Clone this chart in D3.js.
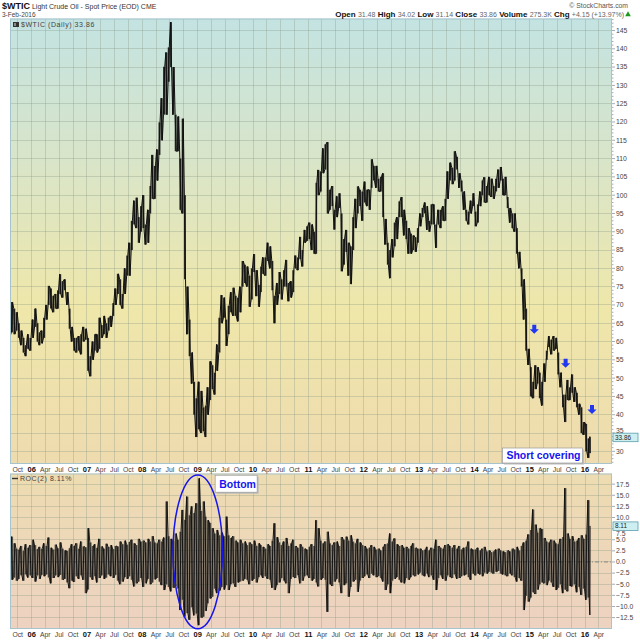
<!DOCTYPE html>
<html>
<head>
<meta charset="utf-8">
<title>$WTIC Light Crude Oil - Spot Price</title>
<script src="https://cdn.jsdelivr.net/npm/d3@7"></script>
<style>
  body { margin: 0; background: #fff; }
  text { font-family: "Liberation Sans", Arial, sans-serif; }
</style>
</head>
<body>
<div id="chart"></div>
<script>
// half-month periods, Aug 2005 (1st half) .. Jan 2016 (2nd half), then Feb 1-3 2016
var priceLo = [
  61.5, 62.5, 62.0, 63.0, 61.0, 59.0, 57.0, 56.0, 58.0, 57.5,
  61, 64, 60, 59, 59.5, 61, 66, 70, 69, 68, 69, 69, 73, 72, 74, 70, 63.5, 60, 57.5, 57, 57.5, 56.5, 60, 60.5,
  52, 50.5, 55, 57.5, 57, 58, 61, 62, 61, 63, 64, 67, 70, 73, 70, 69, 73, 78, 78, 85, 92, 91, 87, 90,
  91, 86.5, 87, 95, 99, 99, 104, 111, 115, 122, 122, 131, 135, 122, 112, 112, 96, 95, 77, 62, 56, 48.5, 40, 33.9,
  36, 35, 35.5, 33.9, 40, 44, 47, 45.5, 52, 57, 65, 66.5, 58.8, 62, 68, 67, 67, 65.5, 68, 75, 76, 75, 69.5, 71.5,
  79, 72.4, 69.5, 73.5, 78.5, 78, 82, 80, 74, 65, 70, 73, 71.5, 75, 75, 71, 72, 73.5, 80, 79.5, 82.5, 80.5, 87, 87.5,
  88, 85, 84, 84, 100, 101, 106, 107, 95, 96, 97, 90.6, 94, 96.5, 79.2, 81, 84.5, 78, 75.7, 85, 91, 95, 97, 93,
  98, 97, 96, 102, 104, 102, 101, 101, 94, 86.5, 81, 77.3, 83, 86, 88, 94, 94, 89, 88, 84, 84, 85, 84.5, 87,
  91.5, 94, 95, 90.5, 90, 92, 92, 85.6, 92, 91, 93, 93, 99, 104, 103, 104, 107, 102, 101, 96, 93, 92, 95, 97,
  91.5, 92.5, 97, 100, 98, 98, 100, 99.5, 99, 101, 102, 104, 100, 100, 96.5, 92.5, 91, 90, 84, 80, 75, 66, 57.5, 53.6,
  45, 44.5, 47, 48.5, 44.5, 42.5, 49, 55, 58.5, 56.5, 57.5, 58, 51, 47.5, 42, 38, 44, 44, 46, 43.5, 42, 40, 35, 34.5,
  30, 28.2, 29.5
];
var priceHi = [
  66.5, 70.8, 69.0, 68.0, 65.0, 63.0, 61.0, 59.0, 62.0, 61.0,
  66, 69, 65, 62.5, 63, 66.5, 70, 75.2, 74.5, 72.5, 73, 74, 78.4, 76.5, 77, 73.5, 69, 64, 61, 61, 61.5, 62, 64, 63.5,
  61, 56, 60, 62, 62, 66.5, 64.5, 67, 65, 66.5, 67, 70.5, 74.5, 78.5, 77, 73, 80, 83.5, 87, 93, 98.5, 99.3, 94, 97,
  100, 92, 96, 102.5, 111, 108, 112.5, 119.9, 126.5, 135.1, 139, 140.4, 147.3, 135, 122, 121.5, 110, 120.9, 100, 75, 66, 57, 49, 44.5,
  49, 46.5, 42, 42.5, 47.5, 54.6, 53.5, 51.5, 59.2, 66.5, 72.7, 72, 66, 69.8, 73.5, 74.7, 72.5, 72, 75, 82, 81, 80.5, 78, 80,
  83.9, 79.5, 75.5, 80.5, 83, 83, 87, 86, 82, 72.5, 76, 79, 77, 79.5, 82.3, 76, 76.5, 79.5, 83.5, 83, 88.6, 85, 90.5, 91.5,
  92.5, 92, 90, 103.4, 106.9, 106.5, 112.8, 113.9, 114.5, 101.5, 102.5, 96, 99.7, 100.5, 95, 88, 90.5, 87, 86, 94, 99, 102.4, 101.5, 101,
  103.7, 101.5, 101.5, 109.8, 108, 108, 104.5, 105, 106, 93.5, 87, 85, 88, 92.5, 94, 98.3, 99.5, 96, 93, 91, 89.5, 89, 88.5, 91,
  95, 96.5, 98, 97, 93, 97.5, 97.5, 92, 96, 96, 97, 99, 106.5, 108.9, 107.5, 112, 110.5, 106, 104, 101, 96, 95.5, 98.5, 100.5,
  95.5, 97.5, 101, 104, 104.9, 102.5, 105, 104.5, 102.5, 104.5, 107, 107.7, 104.5, 105, 99.5, 96.5, 95, 95, 91, 84.5, 80, 77, 69, 58,
  53, 49, 53.5, 53, 51.5, 49, 54, 57.5, 61.5, 60.5, 61.5, 61, 57, 51.5, 45.5, 45.5, 49.5, 47.5, 51, 47.5, 46, 43, 42, 38,
  37.5, 33.5, 34.0
];
var rocHi = [
  3.5, 5.7, 4.2, 3.0, 2.8, 3.6, 2.5, 4.0, 3.2, 3.8,
  5.0, 3.8, 2.9, 3.4, 3.0, 4.2, 3.6, 5.5, 3.2, 2.8, 3.9, 3.1, 4.4, 3.0, 2.6, 2.5, 3.1, 4.0, 3.6, 4.2, 3.0, 4.6, 3.5, 3.3,
  7.6, 4.4, 3.6, 4.0, 3.2, 5.2, 3.5, 3.0, 4.1, 3.4, 3.8, 2.9, 3.6, 3.5, 4.6, 4.0, 4.8, 3.9, 4.5, 5.0, 4.2, 3.8, 5.2, 4.6,
  4.8, 4.4, 5.2, 4.6, 5.8, 4.4, 4.2, 5.0, 4.6, 5.5, 13.6, 5.8, 5.2, 4.8, 6.4, 5.0, 6.8, 11.7, 9.5, 14.7, 10.5, 12.5, 11.0, 13.2,
  18.8, 11.5, 13.6, 10.2, 9.4, 8.8, 7.6, 6.4, 7.2, 6.0, 6.6, 5.8, 10.2, 6.0, 5.4, 5.8, 4.8, 4.4, 5.0, 4.2, 4.6, 3.8, 4.4, 4.0,
  4.8, 3.6, 4.2, 3.8, 3.4, 3.0, 4.0, 3.6, 4.8, 8.7, 5.6, 4.4, 3.8, 4.6, 5.4, 3.6, 4.2, 5.0, 3.6, 3.2, 4.0, 3.4, 3.0, 2.8,
  3.4, 4.0, 3.6, 9.4, 7.6, 4.8, 4.2, 4.6, 6.8, 4.2, 3.8, 4.4, 4.6, 3.6, 5.6, 5.0, 5.7, 4.8, 6.0, 4.6, 4.2, 5.2, 4.4, 3.8,
  3.6, 3.0, 3.2, 3.8, 3.4, 2.8, 3.0, 2.6, 3.4, 4.0, 4.2, 6.4, 4.6, 5.3, 4.0, 3.6, 3.8, 3.2, 3.4, 3.0, 3.6, 4.2, 3.2, 3.0,
  3.0, 2.6, 2.8, 3.4, 2.6, 3.2, 3.0, 5.0, 3.6, 3.2, 3.0, 3.8, 4.0, 3.6, 3.2, 3.8, 3.0, 3.6, 2.8, 3.2, 3.4, 4.6, 3.0, 2.8,
  2.8, 3.2, 2.6, 3.0, 3.4, 2.4, 2.6, 2.2, 2.4, 2.8, 3.0, 2.6, 2.4, 2.2, 2.6, 2.4, 3.0, 2.8, 3.4, 2.6, 3.6, 4.4, 4.8, 6.2,
  7.2, 11.8, 8.4, 6.6, 7.6, 7.4, 5.4, 4.6, 4.4, 5.0, 4.8, 4.2, 4.0, 5.2, 5.6, 16.6, 6.4, 5.2, 5.8, 4.6, 4.8, 5.4, 6.0, 5.2,
  6.2, 13.9, 8.11
];
var rocLo = [
  -3.2, -4.0, -3.5, -4.2, -3.8, -3.0, -4.2, -2.8, -3.5, -3.0,
  -3.6, -4.4, -3.0, -3.8, -2.9, -3.2, -2.8, -3.5, -4.8, -3.6, -3.0, -3.4, -2.9, -4.0, -3.8, -4.6, -5.9, -4.2, -4.5, -3.2, -3.8, -3.0, -4.0, -7.0,
  -6.2, -3.4, -4.0, -3.2, -4.6, -3.6, -3.0, -3.8, -3.5, -2.8, -3.2, -3.6, -2.9, -4.2, -5.0, -4.4, -3.4, -3.8, -3.2, -4.0, -5.5, -4.8, -4.4, -3.6,
  -5.6, -4.8, -3.8, -5.0, -4.6, -3.9, -3.6, -4.4, -5.2, -6.3, -5.0, -5.6, -6.6, -5.8, -5.4, -6.0, -10.8, -8.5, -12.3, -11.5, -13.0, -10.2, -12.0, -11.6,
  -14.2, -12.5, -12.3, -11.0, -9.3, -8.2, -7.8, -6.0, -7.0, -6.4, -5.6, -6.2, -5.2, -6.3, -5.0, -4.8, -5.6, -4.6, -4.4, -4.2, -3.8, -4.0, -5.0, -4.2,
  -3.8, -4.6, -3.4, -3.0, -3.6, -3.2, -3.8, -4.0, -5.8, -6.3, -5.2, -4.6, -3.6, -4.2, -4.8, -7.0, -3.8, -3.4, -3.6, -3.0, -4.8, -4.2, -3.2, -3.0,
  -3.6, -4.2, -3.8, -4.6, -5.5, -4.0, -3.6, -4.0, -11.2, -5.0, -5.4, -4.4, -3.8, -4.6, -7.0, -5.2, -4.8, -7.8, -5.6, -4.4, -4.0, -6.7, -4.2, -3.6,
  -3.2, -2.8, -3.6, -2.6, -3.0, -3.4, -3.2, -3.6, -4.4, -6.3, -5.0, -7.0, -4.2, -3.8, -3.4, -4.0, -4.6, -4.8, -3.6, -4.0, -3.4, -3.0, -3.2, -2.8,
  -2.4, -3.0, -3.2, -2.6, -3.4, -3.0, -4.0, -6.3, -3.6, -3.0, -3.8, -4.2, -3.0, -3.4, -3.6, -2.8, -3.8, -3.6, -3.2, -3.0, -2.8, -3.4, -4.0, -2.6,
  -3.0, -2.6, -2.8, -3.2, -2.4, -2.6, -2.2, -2.4, -2.6, -2.2, -2.0, -2.6, -2.8, -3.0, -3.2, -2.6, -3.0, -3.4, -4.4, -3.6, -4.2, -10.8, -7.6, -8.9,
  -8.0, -6.8, -7.2, -6.2, -5.0, -4.6, -4.8, -5.2, -4.2, -4.6, -5.6, -6.3, -5.8, -5.0, -7.0, -6.2, -6.6, -5.4, -5.5, -5.0, -6.8, -5.6, -7.4, -6.0,
  -8.5, -8.0, -11.9
];
var lastClose = 33.86;
var lastRoc = 8.11;
var priceTicks = d3.range(30, 146, 5);
var rocTicks = d3.range(-12.5, 17.6, 2.5);
var quoteLabels = ["Open", "High", "Low", "Close", "Volume", "Chg"];
var quoteValues = ["31.48", "34.02", "31.14", "33.86", "275.3K", "+4.15 (+13.97%)"];
var arrowDates = ["2015-01-31", "2015-08-26", "2016-02-16"];
var arrowTips = [62.1, 52.8, 40.2];

function main() {
  var W = 640, H = 640;
  var L = 10, R = 612;
  var pTop = 18.5, pBot = 464, rTop = 473.5, rBot = 629;
  var parse = d3.timeParse("%Y-%m-%d");

  var months = d3.timeMonth.range(new Date(2005, 7, 1), new Date(2016, 1, 1));
  var periods = [];
  months.forEach(function(m) {
    periods.push(m, new Date(m.getFullYear(), m.getMonth(), 16));
  });
  periods.push(new Date(2016, 1, 1));
  var lastDay = new Date(2016, 1, 4);
  function periodEnd(i) { return i < periods.length - 1 ? periods[i + 1] : lastDay; }

  var x = d3.scaleTime()
    .domain([new Date(2005, 7, 11), new Date(2016, 5, 27)])
    .range([L, R]);
  var yP = d3.scaleLinear().domain([26.53, 148.28]).range([pBot, pTop]);
  var yR = d3.scaleLinear().domain([-15.06, 19.89]).range([rBot, rTop]);

  var svg = d3.select("#chart").append("svg")
    .attr("width", W).attr("height", H);
  var defs = svg.append("defs");

  function grad(id, stops) {
    var g = defs.append("linearGradient").attr("id", id)
      .attr("x1", 0).attr("y1", 0).attr("x2", 0).attr("y2", 1);
    stops.forEach(function(s) {
      g.append("stop").attr("offset", s[0]).attr("stop-color", s[1]);
    });
  }
  grad("gp", [[0, "#c3e3e2"], [0.35, "#dbe5c6"], [0.65, "#efe7aa"], [1, "#eedbaf"]]);
  grad("gr", [[0, "#eddcb1"], [1, "#edd2c1"]]);

  defs.append("clipPath").attr("id", "cp").append("rect")
    .attr("x", L).attr("y", pTop).attr("width", R - L).attr("height", pBot - pTop);
  defs.append("clipPath").attr("id", "cr").append("rect")
    .attr("x", L).attr("y", rTop).attr("width", R - L).attr("height", rBot - rTop);

  // panel backgrounds
  svg.append("rect").attr("x", L).attr("y", pTop).attr("width", R - L)
    .attr("height", pBot - pTop).attr("fill", "url(#gp)");
  svg.append("rect").attr("x", L).attr("y", rTop).attr("width", R - L)
    .attr("height", rBot - rTop).attr("fill", "url(#gr)");

  // grid
  var quarters = d3.timeMonth.every(3).range(new Date(2005, 9, 1), new Date(2016, 4, 2));
  var grid = svg.append("g").attr("stroke", "#8d9a86").attr("stroke-opacity", 0.35)
    .attr("stroke-width", 1).attr("shape-rendering", "crispEdges");
  quarters.forEach(function(q) {
    grid.append("line").attr("x1", x(q)).attr("x2", x(q)).attr("y1", pTop).attr("y2", pBot);
    grid.append("line").attr("x1", x(q)).attr("x2", x(q)).attr("y1", rTop).attr("y2", rBot);
  });
  priceTicks.forEach(function(v) {
    grid.append("line").attr("x1", L).attr("x2", R).attr("y1", yP(v)).attr("y2", yP(v));
  });
  rocTicks.forEach(function(v) {
    grid.append("line").attr("x1", L).attr("x2", R).attr("y1", yR(v)).attr("y2", yR(v));
  });

  // zigzag through each period's low and high
  function zigzag(lo, hi, flip) {
    var pts = [];
    periods.forEach(function(s, i) {
      var e = periodEnd(i);
      var a = new Date(+s + (e - s) * 0.25), b = new Date(+s + (e - s) * 0.75);
      var up = (i % 2 === flip);
      pts.push([a, up ? hi[i] : lo[i]], [b, up ? lo[i] : hi[i]]);
    });
    return pts;
  }
  // range bars, one per period
  function bars(lo, hi, yScale, clip, fill, opacity, frac) {
    svg.append("g").attr("clip-path", clip).selectAll("rect").data(periods).enter().append("rect")
      .attr("x", function(s, i) {
        var w = x(periodEnd(i)) - x(s);
        return x(s) + w * (1 - frac) / 2;
      })
      .attr("width", function(s, i) { return (x(periodEnd(i)) - x(s)) * frac; })
      .attr("y", function(s, i) { return yScale(hi[i]); })
      .attr("height", function(s, i) { return yScale(lo[i]) - yScale(hi[i]); })
      .attr("fill", fill).attr("fill-opacity", opacity);
  }

  bars(priceLo, priceHi, yP, "url(#cp)", "#151515", 0.9, 0.85);
  var pricePts = zigzag(priceLo, priceHi, 0);
  pricePts.push([new Date(2016, 1, 3, 20), lastClose]);
  svg.append("path").attr("clip-path", "url(#cp)")
    .datum(pricePts)
    .attr("fill", "none").attr("stroke", "#111").attr("stroke-width", 1)
    .attr("stroke-linejoin", "round")
    .attr("d", d3.line().x(function(d) { return x(d[0]); }).y(function(d) { return yP(d[1]); }));

  // ROC zero line
  svg.append("line").attr("x1", L).attr("x2", R).attr("y1", yR(0)).attr("y2", yR(0))
    .attr("stroke", "#777").attr("stroke-width", 0.8).attr("stroke-dasharray", "4,2,1,2");

  bars(rocLo, rocHi, yR, "url(#cr)", "#1e1e1e", 0.72, 0.9);
  var rocPts = zigzag(rocLo, rocHi, 1);
  svg.append("path").attr("clip-path", "url(#cr)")
    .datum(rocPts)
    .attr("fill", "none").attr("stroke", "#0d0d0d").attr("stroke-width", 0.9)
    .attr("stroke-linejoin", "round")
    .attr("d", d3.line().x(function(d) { return x(d[0]); }).y(function(d) { return yR(d[1]); }));

  // frames
  [[pTop, pBot], [rTop, rBot]].forEach(function(p) {
    svg.append("rect").attr("x", L + 0.5).attr("y", p[0] + 0.5)
      .attr("width", R - L - 1).attr("height", p[1] - p[0] - 1)
      .attr("fill", "none").attr("stroke", "#a7c3cb").attr("stroke-width", 1);
  });

  // x axis labels (between panels and at bottom)
  var fmtLabel = function(d) {
    return d.getMonth() === 0 ? d3.timeFormat("%y")(d) : d3.timeFormat("%b")(d);
  };
  [469.5, 634.5].forEach(function(yy) {
    svg.append("g").selectAll("text").data(quarters).enter().append("text")
      .attr("x", function(d) { return x(d); })
      .attr("y", yy).attr("dy", "0.35em")
      .attr("text-anchor", "middle")
      .attr("font-size", function(d) { return d.getMonth() === 0 ? 7.5 : 6.8; })
      .attr("font-weight", function(d) { return d.getMonth() === 0 ? "bold" : "normal"; })
      .attr("fill", function(d) { return d.getMonth() === 0 ? "#111" : "#444"; })
      .text(fmtLabel);
  });

  // right axes
  var minor = d3.range(27, 149, 1);
  var ax = svg.append("g").attr("stroke", "#7d8b96").attr("stroke-width", 0.7);
  minor.forEach(function(v) {
    ax.append("line").attr("x1", R).attr("x2", R + (v % 5 === 0 ? 3 : 1.5))
      .attr("y1", yP(v)).attr("y2", yP(v));
  });
  rocTicks.forEach(function(v) {
    ax.append("line").attr("x1", R).attr("x2", R + 3).attr("y1", yR(v)).attr("y2", yR(v));
  });
  // labels right next to a last-value tag are nudged clear of it
  var tagP = yP(lastClose), tagR = yR(lastRoc);
  function lift(yy, tagY) { return Math.abs(yy - tagY) < 8 ? (yy < tagY ? -2.5 : 4.5) : 0; }
  svg.append("g").selectAll("text").data(priceTicks).enter().append("text")
    .attr("x", R + 4).attr("y", function(d) { return yP(d) + lift(yP(d), tagP); }).attr("dy", "0.35em")
    .attr("font-size", 6.8).attr("fill", "#444").text(function(d) { return d; });
  svg.append("g").selectAll("text").data(rocTicks).enter().append("text")
    .attr("x", R + 4).attr("y", function(d) { return yR(d) + lift(yR(d), tagR); }).attr("dy", "0.35em")
    .attr("font-size", 6.8).attr("fill", "#444").text(d3.format(".1f"));

  // last value tags
  function tag(yy, label) {
    svg.append("rect").attr("x", R + 1).attr("y", yy - 4).attr("width", 25).attr("height", 8.5)
      .attr("fill", "#cdeff2").attr("stroke", "#5a9eaa").attr("stroke-width", 0.8);
    svg.append("text").attr("x", R + 3).attr("y", yy + 0.3).attr("dy", "0.35em")
      .attr("font-size", 6.4).attr("fill", "#222").text(label);
  }
  tag(tagP, d3.format(".2f")(lastClose));
  tag(tagR, d3.format(".2f")(lastRoc));

  // header
  var h1 = svg.append("text").attr("x", 2).attr("y", 9);
  h1.append("tspan").attr("font-weight", "bold").attr("font-size", 9).attr("fill", "#111").text("$WTIC");
  h1.append("tspan").attr("font-size", 7).attr("fill", "#333").text(" Light Crude Oil - Spot Price (EOD) CME");
  svg.append("text").attr("x", 2).attr("y", 17).attr("font-size", 6.5).attr("fill", "#444").text("3-Feb-2016");
  svg.append("text").attr("x", 628).attr("y", 8).attr("text-anchor", "end")
    .attr("font-size", 6.8).attr("fill", "#555").text("\u00a9 StockCharts.com");
  var h2 = svg.append("text").attr("x", 624).attr("y", 17).attr("text-anchor", "end");
  quoteLabels.forEach(function(lab, i) {
    h2.append("tspan").attr("font-weight", "bold").attr("font-size", 8).attr("fill", "#111")
      .text((i ? " " : "") + lab + " ");
    h2.append("tspan").attr("font-size", 7).attr("fill", "#666").text(quoteValues[i]);
  });
  svg.append("path").attr("d", d3.symbol(d3.symbolTriangle, 14)())
    .attr("transform", "translate(628,14.5)").attr("fill", "#1a9a1a");

  // panel legends
  svg.append("rect").attr("x", 13).attr("y", 22).attr("width", 6).attr("height", 5).attr("fill", "#333");
  svg.append("rect").attr("x", 14.5).attr("y", 23).attr("width", 1).attr("height", 3).attr("fill", "#ddd");
  svg.append("text").attr("x", 21).attr("y", 27).attr("font-size", 7).attr("fill", "#444")
    .attr("letter-spacing", 0.55).text("$WTIC (Daily) " + d3.format(".2f")(lastClose));
  svg.append("line").attr("x1", 12).attr("x2", 18).attr("y1", 478.5).attr("y2", 478.5)
    .attr("stroke", "#333").attr("stroke-width", 1.4);
  svg.append("text").attr("x", 20).attr("y", 481).attr("font-size", 7).attr("fill", "#444")
    .attr("letter-spacing", 0.55).text("ROC(2) " + d3.format(".2f")(lastRoc) + "%");

  // annotations
  var blue = "#1515f0";
  arrowDates.forEach(function(d, i) {
    var ax0 = x(parse(d)), ay = yP(arrowTips[i]);
    svg.append("path")
      .attr("d", "M" + (ax0 - 2) + "," + (ay - 9) + "h4v4.5h2.6l-4.6,4.5l-4.6,-4.5h2.6z")
      .attr("fill", "#2238ee");
  });

  function box(d0, v0, w, h, label, yScale) {
    var bx = x(parse(d0)), by = yScale(v0);
    svg.append("rect").attr("x", bx + 1.5).attr("y", by + 1.5).attr("width", w).attr("height", h)
      .attr("fill", "#bbb");
    svg.append("rect").attr("x", bx).attr("y", by).attr("width", w).attr("height", h)
      .attr("fill", "#fff").attr("stroke", "#999").attr("stroke-width", 0.7);
    svg.append("text").attr("x", bx + 4).attr("y", by + h / 2).attr("dy", "0.36em")
      .attr("font-size", 10.5).attr("font-weight", "bold").attr("fill", blue).text(label);
  }
  box("2014-07-05", 30.9, 80, 15, "Short covering", yP);
  box("2009-04-26", 19.5, 42, 17, "Bottom", yR);

  var eL = x(parse("2008-07-22")), eR = x(parse("2009-06-13"));
  var eT = yR(19.55), eB = yR(-15.0);
  svg.append("ellipse").attr("cx", (eL + eR) / 2).attr("cy", (eT + eB) / 2)
    .attr("rx", (eR - eL) / 2).attr("ry", (eB - eT) / 2)
    .attr("fill", "none").attr("stroke", blue).attr("stroke-width", 1.5);
}

window.onload = main;
</script>
</body>
</html>
